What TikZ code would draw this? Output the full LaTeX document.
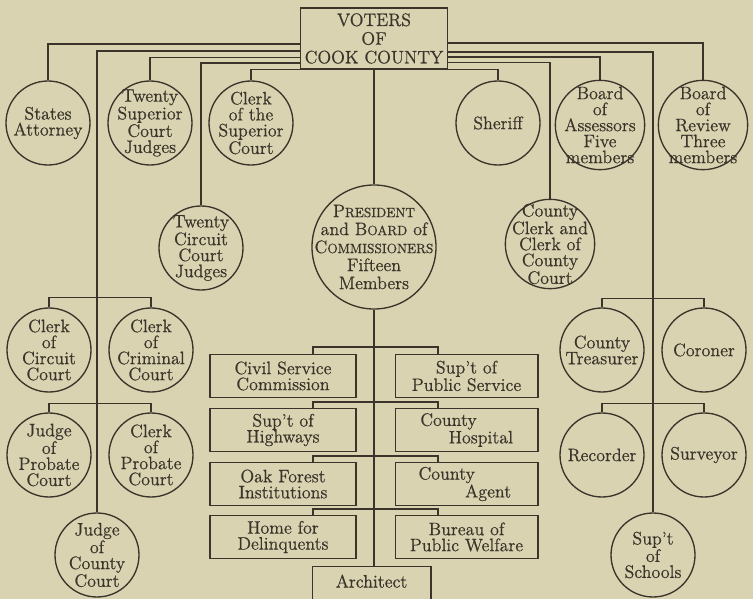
\documentclass[tikz,border=0pt]{standalone}
\usepackage{fontspec}
\setmainfont{Latin Modern Roman}[FakeBold=0.6]
\usepackage{xcolor}
\usepackage{tikz}
\usetikzlibrary{positioning}

\definecolor{paper}{RGB}{217,211,178}
\definecolor{ink}{RGB}{58,52,42}

% capital letter followed by smaller capitals
\newcommand{\capsc}[2]{{\fontsize{13.5}{13.5}\selectfont #1}{\fontsize{10}{13.5}\selectfont #2}}

\begin{document}
\begin{tikzpicture}[x=0.75pt, y=-0.75pt, line width=0.9pt, draw=ink, text=ink]
    \tikzstyle{office} = [circle, draw=ink, line width=1pt, inner sep=-20pt, minimum size=63pt, align=center, font=\fontsize{13.5}{12}\selectfont]
    \tikzstyle{bigoffice} = [office, minimum size=67pt]
    \tikzstyle{board} = [rectangle, draw=ink, line width=1pt, minimum width=109.5pt, minimum height=32pt, inner sep=2pt, align=center, font=\fontsize{13.5}{12}\selectfont]
    \tikzstyle{wideboard} = [board, minimum width=107pt]

    \fill[paper] (0,0) rectangle (753,599);
    \clip (0,0) rectangle (753,599);

    \node (voters) [board, minimum width=110pt, minimum height=45.75pt, font=\fontsize{13.5}{14}\selectfont] at (374,38.5) {VOTERS\\OF\\COOK COUNTY};

    % elected by the voters
    \node (attorney) [office] at (48,123) {States\\Attorney};
    \node (supjudges) [office] at (150,123) {Twenty\\Superior\\Court\\Judges};
    \node (clksup) [office] at (251,123) {Clerk\\of the\\Superior\\Court};
    \node (sheriff) [office] at (498,123) {Sheriff};
    \node (assessors) [bigoffice] at (600,125) {Board\\of\\Assessors\\Five\\members};
    \node (review) [bigoffice] at (703,125) {Board\\of\\Review\\Three\\members};
    \node (circjudges) [office] at (201,248) {Twenty\\Circuit\\Court\\Judges};
    \node (president) [office, minimum size=93pt, font=\fontsize{13.5}{13.5}\selectfont] at (374,247) {\capsc{P}{RESIDENT}\\and \capsc{B}{OARD} of\\\capsc{C}{OMMISSIONERS}\\Fifteen\\Members};
    \node (cntyclerk) [bigoffice] at (550,244) {County\\Clerk and\\Clerk of\\County\\Court};

    % court officers
    \node (ccircuit) [office] at (49,350) {Clerk\\of\\Circuit\\Court};
    \node (ccriminal) [office] at (151,350) {Clerk\\of\\Criminal\\Court};
    \node (jprobate) [office] at (49,455) {Judge\\of\\Probate\\Court};
    \node (cprobate) [office] at (151,455) {Clerk\\of\\Probate\\Court};
    \node (jcounty) [office] at (97,555) {Judge\\of\\County\\Court};

    % county officers
    \node (treasurer) [office] at (602,350) {County\\Treasurer};
    \node (coroner) [office] at (704,350) {Coroner};
    \node (recorder) [office] at (602,455) {Recorder};
    \node (surveyor) [office] at (704,455) {Surveyor};
    \node (schools) [office] at (653,555) {Sup’t\\of\\Schools};

    % under the board of commissioners
    \node (civil) [board] at (283,376) {Civil Service\\Commission};
    \node (pubserv) [wideboard] at (466.5,376) {Sup’t of\\Public Service};
    \node (highways) [board] at (283,430) {Sup’t of\\Highways};
    \node (hospital) [wideboard] at (466.5,430) {County\hspace*{2em}\\\hspace*{1.6em}Hospital};
    \node (oakforest) [board] at (283,484) {Oak Forest\\Institutions};
    \node (agent) [wideboard] at (466.5,484) {County\hspace*{2.2em}\\\hspace*{2.4em}Agent};
    \node (delinq) [board] at (283,537) {Home for\\Delinquents};
    \node (welfare) [wideboard] at (466.5,537) {Bureau of\\Public Welfare};
    \node (architect) [board, anchor=north, minimum width=89pt, inner ysep=6pt, text depth=30pt] at (371.5,566) {Architect};

    % lines out of the voters box
    \draw ([shift={(0,5.5)}]voters.west) -| (attorney);
    \draw ([shift={(0,12.5)}]voters.west) -| (jcounty);
    \draw ([shift={(0,19)}]voters.west) -| (supjudges);
    \draw ([shift={(0,24.5)}]voters.west) -| (circjudges);
    \draw (clksup) |- (voters.south) -| (sheriff);
    \draw ([shift={(0,4.5)}]voters.east) -| (review);
    \draw ([shift={(0,13.5)}]voters.east) -| (schools);
    \draw ([shift={(0,18.5)}]voters.east) -| (assessors);
    \draw ([shift={(0,24)}]voters.east) -| (cntyclerk);
    \draw (voters) -- (president);

    % side brackets
    \draw (ccircuit.north) -- ++(0,-10) -| (ccriminal.north);
    \draw (jprobate.north) -- ++(0,-9) -| (cprobate.north);
    \draw (treasurer.north) -- ++(0,-9) -| (coroner.north);
    \draw (recorder.north) -- ++(0,-9) -| (surveyor.north);

    % middle column
    \draw (president.south) -- (president.south |- architect.north);
    \draw ([shift={(30,0)}]civil.north) -- ++(0,-7) -| ([shift={(-28.5,0)}]pubserv.north);
    \draw ([shift={(30,0)}]highways.north) -- ++(0,-6) -| ([shift={(-28.5,0)}]hospital.north);
    \draw ([shift={(30,0)}]oakforest.north) -- ++(0,-6) -| ([shift={(-28.5,0)}]agent.north);
    \draw ([shift={(30,0)}]delinq.north) -- ++(0,-6) -| ([shift={(-28.5,0)}]welfare.north);
\end{tikzpicture}
\end{document}
